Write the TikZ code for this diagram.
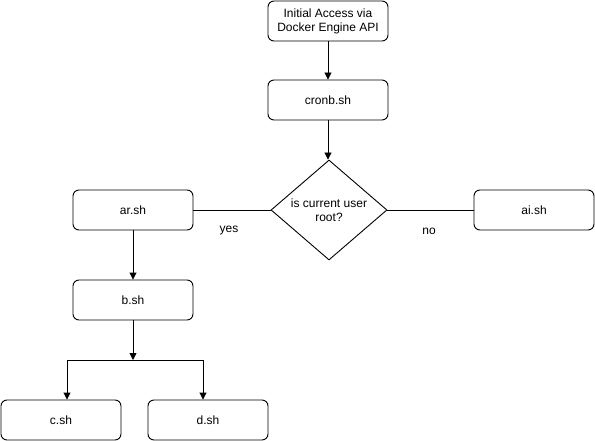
\documentclass[tikz,border=0pt]{standalone}
\usepackage{fontspec}
\setmainfont{Liberation Sans}
\usetikzlibrary{shapes.geometric,arrows.meta}
\begin{document}
\begin{tikzpicture}[x=1pt,y=-1pt,
  box/.style={draw,rounded corners=6pt,minimum width=120pt,minimum height=40pt,inner sep=0pt,font=\fontsize{12}{14}\selectfont,align=center,line width=0.9pt},
  dec/.style={draw,diamond,aspect=1.16,minimum width=116pt,minimum height=100pt,inner sep=0pt,font=\fontsize{12}{14}\selectfont,align=center,line width=0.9pt},
  conn/.style={line width=0.9pt},
  arr/.style={conn,-{Triangle[length=7pt,width=7pt]}},
  lbl/.style={font=\fontsize{12}{14}\selectfont}]
\useasboundingbox (0,0) rectangle (595,441);
\fill[white] (0,0) rectangle (595,441);
\node[box] (init) at (328,21) {Initial Access via\\Docker Engine API};
\node[box] (cronb) at (328,100) {cronb.sh};
\node[dec] (root) at (329,210) {is current user\\root?};
\node[box] (ar) at (133,210) {ar.sh};
\node[box] (ai) at (534,210) {ai.sh};
\node[box] (b) at (133,300) {b.sh};
\node[box] (c) at (61,420) {c.sh};
\node[box] (d) at (208,420) {d.sh};
\coordinate (split) at (133,360);
\coordinate (cl) at (67,360);
\coordinate (dr) at (203,360);
\draw[arr] (init.south) -- (cronb.north);
\draw[arr] (cronb.south) -- (cronb.south |- root.north);
\draw[conn] (root.west) -- (ar.east);
\draw[conn] (root.east) -- (ai.west);
\draw[arr] (ar.south) -- (b.north);
\draw[arr] (b.south) -- (split);
\draw[arr] (split) -- (cl) -- (cl |- c.north);
\draw[arr] (split) -- (dr) -- (dr |- d.north);
\node[lbl] (yes) at (229,231) {yes};
\node[lbl] (no) at (429,231) {no};
\end{tikzpicture}
\end{document}
